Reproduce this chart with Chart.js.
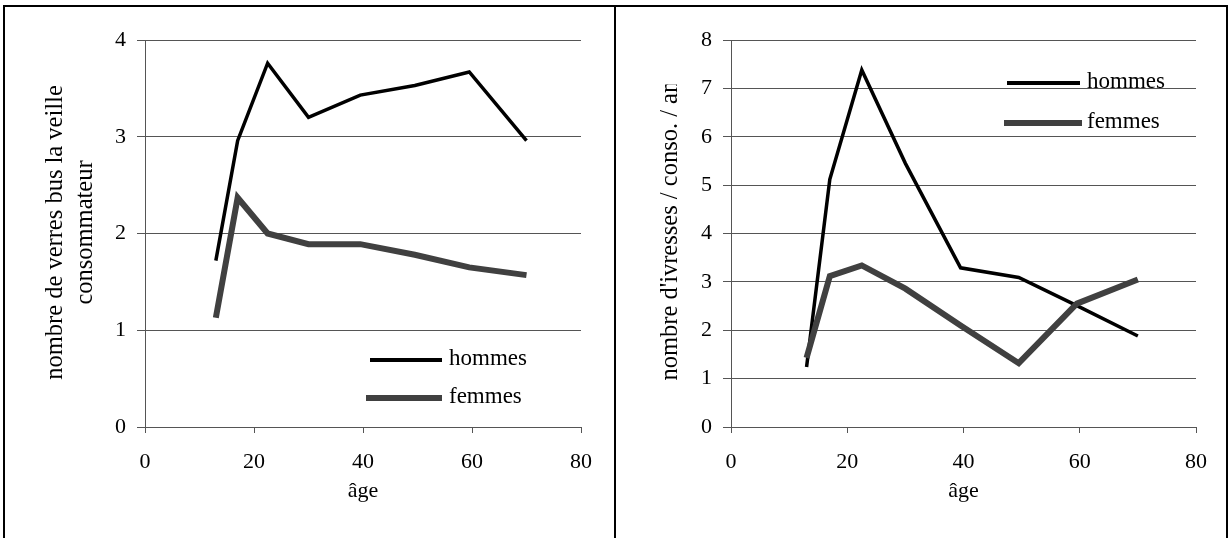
<!DOCTYPE html>
<html lang="fr">
<head>
<meta charset="utf-8">
<title>Consommation d'alcool selon l'âge</title>
<script src="https://cdn.jsdelivr.net/npm/chart.js@4/dist/chart.umd.min.js"></script>
<style>
  html, body { margin: 0; padding: 0; background: #fff; }
  body { width: 1229px; height: 538px; position: relative; overflow: hidden; }
  #frame { position: absolute; left: 3px; top: 5px; width: 1221px; height: 600px; border: 2px solid #000; }
  #divider { position: absolute; left: 614px; top: 5px; width: 2px; height: 600px; background: #000; }
  canvas { position: absolute; top: 7px; }
  #verres { left: 6px; }
  #ivresses { left: 617px; }
</style>
</head>
<body>
<div id="frame"></div>
<div id="divider"></div>
<canvas id="verres" width="607" height="531"></canvas>
<canvas id="ivresses" width="607" height="531"></canvas>
<script>
// Age-group midpoints (years)
const ages = [13, 17, 22.5, 30, 39.5, 49.5, 59.5, 70];

// Glasses drunk the day before, per drinker
const verresHommes = [1.72, 2.96, 3.76, 3.20, 3.43, 3.53, 3.67, 2.96];
const verresFemmes = [1.13, 2.37, 2.00, 1.89, 1.89, 1.78, 1.65, 1.57];

// Drunkenness episodes per drinker per year
const ivressesHommes = [1.24, 5.12, 7.38, 5.45, 3.29, 3.09, 2.51, 1.88];
const ivressesFemmes = [1.43, 3.12, 3.34, 2.86, 2.10, 1.32, 2.55, 3.05];

const seriesLabels = ['hommes', 'femmes'];
const ageTicks = [0, 20, 40, 60, 80];
const verresTicks = [0, 1, 2, 3, 4];
const ivressesTicks = [0, 1, 2, 3, 4, 5, 6, 7, 8];
const ageTitle = 'âge';
const verresTitle = ['nombre de verres bus la veille', 'consommateur'];
const ivressesTitle = ['nombre d\'ivresses / conso. / an'];

const SERIF = '"Liberation Serif", "Times New Roman", serif';
const GRID = '#555555';
const COLORS = ['#000000', '#404040'];
const WIDTHS = [3.5, 6];

function toPoints(xs, ys) {
  return xs.map((x, i) => ({ x, y: ys[i] }));
}

// Rotated y-axis title placed in a fixed-length box centred on the plot;
// overflowing text starts at the bottom and is cut at the box end.
const yTitleBox = {
  id: 'yTitleBox',
  afterDraw(chart, _args, o) {
    if (!o || !o.lines) return;
    const { ctx, chartArea } = chart;
    const cy = (chartArea.top + chartArea.bottom) / 2 + (o.shift || 0);
    const half = o.boxLength / 2;
    ctx.save();
    ctx.font = `${o.size}px ${SERIF}`;
    ctx.fillStyle = '#000';
    ctx.textBaseline = 'middle';
    ctx.beginPath();
    ctx.rect(0, cy - half, chartArea.left - 30, o.boxLength);
    ctx.clip();
    o.lines.forEach((line, i) => {
      const w = ctx.measureText(line).width;
      ctx.save();
      ctx.translate(o.x + i * o.lineGap, cy);
      ctx.rotate(-Math.PI / 2);
      if (w <= o.boxLength) {
        ctx.textAlign = 'center';
        ctx.fillText(line, 0, 0);
      } else {
        ctx.textAlign = 'left';
        ctx.fillText(line, -half, 0);
      }
      ctx.restore();
    });
    ctx.restore();
  }
};

// Legend drawn inside the plot area, one line sample + label per dataset.
const innerLegend = {
  id: 'innerLegend',
  afterDraw(chart, _args, o) {
    if (!o || !o.rows) return;
    const { ctx, chartArea } = chart;
    ctx.save();
    ctx.font = `${o.size}px ${SERIF}`;
    ctx.textBaseline = 'middle';
    ctx.textAlign = 'left';
    chart.data.datasets.forEach((ds, i) => {
      const r = o.rows[i];
      const y = chartArea.top + r.y;
      ctx.strokeStyle = ds.borderColor;
      ctx.lineWidth = r.width;
      ctx.lineCap = 'butt';
      ctx.beginPath();
      ctx.moveTo(chartArea.left + r.x0, y);
      ctx.lineTo(chartArea.left + r.x1, y);
      ctx.stroke();
      ctx.fillStyle = '#000';
      ctx.fillText(ds.label, chartArea.left + o.textX, y + o.textDy);
    });
    ctx.restore();
  }
};

function makeChart(canvasId, cfg) {
  const datasets = cfg.series.map((vals, i) => ({
    label: seriesLabels[i],
    data: toPoints(ages, vals),
    showLine: true,
    borderColor: COLORS[i],
    backgroundColor: COLORS[i],
    borderWidth: WIDTHS[i],
    borderJoinStyle: 'miter',
    borderCapStyle: 'butt',
    pointRadius: 0,
    pointHoverRadius: 0,
    tension: 0,
    order: 1 - i
  }));
  return new Chart(document.getElementById(canvasId), {
    type: 'scatter',
    data: { datasets },
    options: {
      responsive: false,
      animation: false,
      devicePixelRatio: 1,
      layout: { padding: { top: 33, right: cfg.padRight, left: 0, bottom: 0 } },
      plugins: {
        legend: { display: false },
        tooltip: { enabled: false },
        yTitleBox: cfg.yTitle,
        innerLegend: cfg.legend
      },
      scales: {
        x: {
          type: 'linear',
          position: 'bottom',
          min: ageTicks[0],
          max: ageTicks[ageTicks.length - 1],
          afterBuildTicks: s => { s.ticks = ageTicks.map(v => ({ value: v })); },
          afterFit: s => { s.height = 111; },
          ticks: { color: '#000', font: { family: SERIF, size: 22 }, padding: 16, maxRotation: 0 },
          grid: { drawOnChartArea: false, drawTicks: true, tickLength: 6, color: GRID, lineWidth: 1 },
          border: { display: true, color: GRID, width: 1 },
          title: {
            display: true,
            text: ageTitle,
            color: '#000',
            font: { family: SERIF, size: 22 },
            padding: { top: 0, bottom: 34 }
          }
        },
        y: {
          type: 'linear',
          position: 'left',
          min: cfg.yTicks[0],
          max: cfg.yTicks[cfg.yTicks.length - 1],
          afterBuildTicks: s => { s.ticks = cfg.yTicks.map(v => ({ value: v })); },
          afterFit: s => { s.width = cfg.yWidth; },
          ticks: { color: '#000', font: { family: SERIF, size: 22 }, padding: 11 },
          grid: { drawOnChartArea: true, drawTicks: true, tickLength: 8, color: GRID, lineWidth: 1 },
          border: { display: true, color: GRID, width: 1 }
        }
      }
    },
    plugins: [yTitleBox, innerLegend]
  });
}

makeChart('verres', {
  series: [verresHommes, verresFemmes],
  yTicks: verresTicks,
  yWidth: 139,
  padRight: 32,
  yTitle: { lines: verresTitle, size: 24.5, x: 50, lineGap: 30, boxLength: 296, shift: -1 },
  legend: {
    size: 23,
    textX: 304,
    textDy: -1,
    rows: [
      { x0: 225, x1: 297, y: 320, width: 4 },
      { x0: 221, x1: 297, y: 358, width: 6 }
    ]
  }
});

makeChart('ivresses', {
  series: [ivressesHommes, ivressesFemmes],
  yTicks: ivressesTicks,
  yWidth: 114,
  padRight: 28,
  yTitle: { lines: ivressesTitle, size: 24.5, x: 54, lineGap: 30, boxLength: 296, shift: -1 },
  legend: {
    size: 23,
    textX: 356,
    textDy: -1,
    rows: [
      { x0: 276, x1: 349, y: 43, width: 4 },
      { x0: 273, x1: 351, y: 83, width: 6 }
    ]
  }
});
</script>
</body>
</html>
